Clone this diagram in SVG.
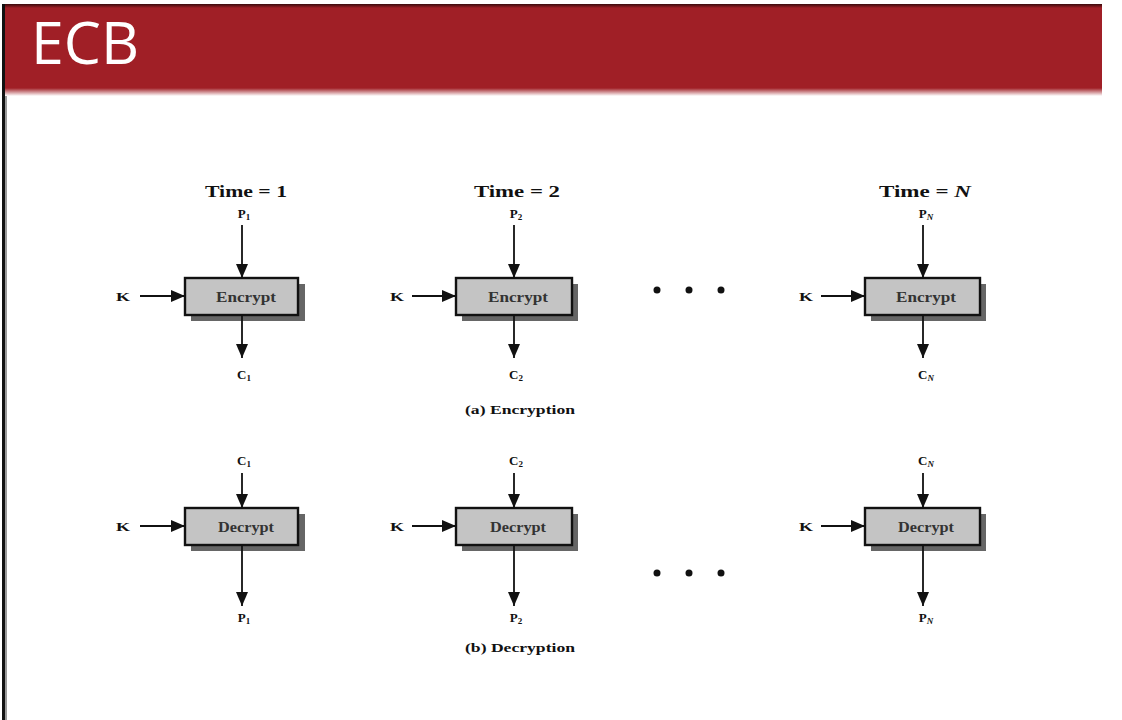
<svg xmlns="http://www.w3.org/2000/svg" width="1122" height="720" viewBox="0 0 1122 720">
  <defs>
    <linearGradient id="barFade" x1="0" y1="0" x2="0" y2="1">
      <stop offset="0" stop-color="#a01f26"/>
      <stop offset="1" stop-color="#ffffff"/>
    </linearGradient>
    <linearGradient id="barTop" x1="0" y1="0" x2="0" y2="1">
      <stop offset="0" stop-color="#3a0a0c"/>
      <stop offset="1" stop-color="#a01f26"/>
    </linearGradient>
    <marker id="headBig" viewBox="0 0 14 12" refX="14" refY="6" markerWidth="14" markerHeight="12" markerUnits="userSpaceOnUse" orient="auto">
      <path d="M0,0 L14,6 L0,12 Z" fill="#111"/>
    </marker>
  </defs>
  <style>
    .title { font-family: "Open Sans", "Liberation Sans", sans-serif; font-size: 59px; fill: #ffffff; }
    .lbl { font-family: "Liberation Serif", serif; font-weight: bold; fill: #111; text-anchor: middle; }
    .time { font-size: 17px; }
    .io { font-size: 13px; }
    .sub { font-size: 9px; }
    .cap { font-size: 13.5px; }
    .box { fill: #c4c4c4; stroke: #111; stroke-width: 2.4; }
    .shadow { fill: #666666; }
    .boxtxt { font-family: "Liberation Serif", serif; font-weight: bold; font-size: 14px; fill: #333; text-anchor: middle; }
    .wire { stroke: #111; stroke-width: 1.8; fill: none; }
    .dot { fill: #111; }
  </style>

  <rect x="0" y="0" width="1122" height="720" fill="#ffffff"/>
  <!-- left frame edge -->
  <rect x="2" y="4" width="3" height="716" fill="#111"/>
  <rect x="5" y="4" width="2" height="716" fill="#9a9a9a"/>

  <!-- header bar -->
  <g id="header">
    <rect x="5" y="4" width="1097" height="86" fill="#a01f26"/>
    <rect x="5" y="4" width="1097" height="4" fill="url(#barTop)"/>
    <rect x="5" y="88" width="1097" height="8" fill="url(#barFade)"/>
    <text class="title" x="31" y="64">ECB</text>
  </g>

  <!-- column headings -->
  <text class="lbl time" x="246" y="197" textLength="82" lengthAdjust="spacingAndGlyphs">Time = 1</text>
  <text class="lbl time" x="517" y="197" textLength="86" lengthAdjust="spacingAndGlyphs">Time = 2</text>
  <text class="lbl time" x="925" y="197" textLength="92" lengthAdjust="spacingAndGlyphs">Time = <tspan font-style="italic">N</tspan></text>

  <!-- encryption blocks -->
  <g id="enc1">
    <rect class="shadow" x="191" y="284" width="114" height="37"/>
    <rect class="box" x="185" y="278" width="113" height="37"/>
    <text class="boxtxt" x="246" y="302" textLength="60" lengthAdjust="spacingAndGlyphs">Encrypt</text>
  </g>
  <g id="enc2">
    <rect class="shadow" x="462" y="284" width="116" height="37"/>
    <rect class="box" x="456" y="278" width="116" height="37"/>
    <text class="boxtxt" x="518" y="302" textLength="60" lengthAdjust="spacingAndGlyphs">Encrypt</text>
  </g>
  <g id="encN">
    <rect class="shadow" x="871" y="284" width="115" height="37"/>
    <rect class="box" x="865" y="278" width="115" height="37"/>
    <text class="boxtxt" x="926" y="302" textLength="60" lengthAdjust="spacingAndGlyphs">Encrypt</text>
  </g>

  <!-- decryption blocks -->
  <g id="dec1">
    <rect class="shadow" x="191" y="514" width="114" height="37"/>
    <rect class="box" x="185" y="508" width="113" height="37"/>
    <text class="boxtxt" x="246" y="532" textLength="56" lengthAdjust="spacingAndGlyphs">Decrypt</text>
  </g>
  <g id="dec2">
    <rect class="shadow" x="462" y="514" width="116" height="37"/>
    <rect class="box" x="456" y="508" width="116" height="37"/>
    <text class="boxtxt" x="518" y="532" textLength="56" lengthAdjust="spacingAndGlyphs">Decrypt</text>
  </g>
  <g id="decN">
    <rect class="shadow" x="871" y="514" width="115" height="37"/>
    <rect class="box" x="865" y="508" width="115" height="37"/>
    <text class="boxtxt" x="926" y="532" textLength="56" lengthAdjust="spacingAndGlyphs">Decrypt</text>
  </g>

  <!-- inputs, keys and outputs -->
  <g id="connectors">
    <!-- encryption row -->
    <line class="wire" x1="242" y1="225" x2="242" y2="278" marker-end="url(#headBig)"/>
    <line class="wire" x1="140" y1="296" x2="185" y2="296" marker-end="url(#headBig)"/>
    <line class="wire" x1="242" y1="315" x2="242" y2="358" marker-end="url(#headBig)"/>

    <line class="wire" x1="514" y1="225" x2="514" y2="278" marker-end="url(#headBig)"/>
    <line class="wire" x1="412" y1="296" x2="456" y2="296" marker-end="url(#headBig)"/>
    <line class="wire" x1="514" y1="315" x2="514" y2="358" marker-end="url(#headBig)"/>

    <line class="wire" x1="923" y1="225" x2="923" y2="278" marker-end="url(#headBig)"/>
    <line class="wire" x1="821" y1="296" x2="865" y2="296" marker-end="url(#headBig)"/>
    <line class="wire" x1="923" y1="315" x2="923" y2="358" marker-end="url(#headBig)"/>

    <!-- decryption row -->
    <line class="wire" x1="242" y1="473" x2="242" y2="508" marker-end="url(#headBig)"/>
    <line class="wire" x1="140" y1="526" x2="185" y2="526" marker-end="url(#headBig)"/>
    <line class="wire" x1="242" y1="545" x2="242" y2="606" marker-end="url(#headBig)"/>

    <line class="wire" x1="514" y1="473" x2="514" y2="508" marker-end="url(#headBig)"/>
    <line class="wire" x1="412" y1="526" x2="456" y2="526" marker-end="url(#headBig)"/>
    <line class="wire" x1="514" y1="545" x2="514" y2="606" marker-end="url(#headBig)"/>

    <line class="wire" x1="923" y1="473" x2="923" y2="508" marker-end="url(#headBig)"/>
    <line class="wire" x1="821" y1="526" x2="865" y2="526" marker-end="url(#headBig)"/>
    <line class="wire" x1="923" y1="545" x2="923" y2="606" marker-end="url(#headBig)"/>
  </g>

  <!-- labels: encryption row -->
  <text class="lbl io" x="244" y="218">P<tspan class="sub" dy="2">1</tspan></text>
  <text class="lbl io" x="123" y="301" textLength="14" lengthAdjust="spacingAndGlyphs">K</text>
  <text class="lbl io" x="244" y="379">C<tspan class="sub" dy="2">1</tspan></text>

  <text class="lbl io" x="516" y="218">P<tspan class="sub" dy="2">2</tspan></text>
  <text class="lbl io" x="397" y="301" textLength="14" lengthAdjust="spacingAndGlyphs">K</text>
  <text class="lbl io" x="516" y="379">C<tspan class="sub" dy="2">2</tspan></text>

  <text class="lbl io" x="926" y="218">P<tspan class="sub" dy="2" font-style="italic">N</tspan></text>
  <text class="lbl io" x="806" y="301" textLength="14" lengthAdjust="spacingAndGlyphs">K</text>
  <text class="lbl io" x="926" y="379">C<tspan class="sub" dy="2" font-style="italic">N</tspan></text>

  <text class="lbl cap" x="520" y="414" textLength="110" lengthAdjust="spacingAndGlyphs">(a) Encryption</text>

  <!-- labels: decryption row -->
  <text class="lbl io" x="244" y="465">C<tspan class="sub" dy="2">1</tspan></text>
  <text class="lbl io" x="123" y="531" textLength="14" lengthAdjust="spacingAndGlyphs">K</text>
  <text class="lbl io" x="244" y="622">P<tspan class="sub" dy="2">1</tspan></text>

  <text class="lbl io" x="516" y="465">C<tspan class="sub" dy="2">2</tspan></text>
  <text class="lbl io" x="397" y="531" textLength="14" lengthAdjust="spacingAndGlyphs">K</text>
  <text class="lbl io" x="516" y="622">P<tspan class="sub" dy="2">2</tspan></text>

  <text class="lbl io" x="926" y="465">C<tspan class="sub" dy="2" font-style="italic">N</tspan></text>
  <text class="lbl io" x="806" y="531" textLength="14" lengthAdjust="spacingAndGlyphs">K</text>
  <text class="lbl io" x="926" y="622">P<tspan class="sub" dy="2" font-style="italic">N</tspan></text>

  <text class="lbl cap" x="520" y="652" textLength="110" lengthAdjust="spacingAndGlyphs">(b) Decryption</text>

  <!-- ellipsis between columns -->
  <circle class="dot" cx="657" cy="290" r="3.5"/>
  <circle class="dot" cx="689" cy="290" r="3.5"/>
  <circle class="dot" cx="721" cy="290" r="3.5"/>
  <circle class="dot" cx="657" cy="573" r="3.5"/>
  <circle class="dot" cx="689" cy="573" r="3.5"/>
  <circle class="dot" cx="721" cy="573" r="3.5"/>
</svg>
